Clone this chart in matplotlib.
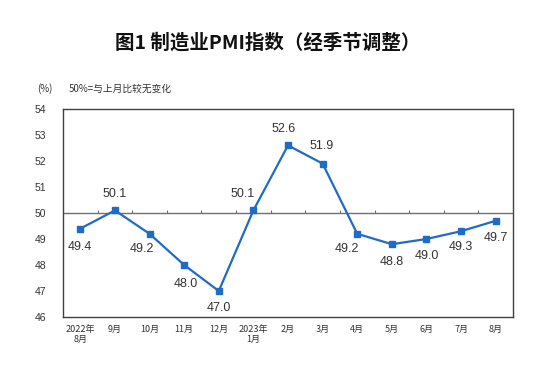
import matplotlib
matplotlib.use("Agg")
import matplotlib.pyplot as plt

plt.rcParams['font.family'] = ['Liberation Sans', 'Noto Sans CJK SC', 'DejaVu Sans']

months = ['2022年\n8月', '9月', '10月', '11月', '12月', '2023年\n1月', '2月',
          '3月', '4月', '5月', '6月', '7月', '8月']
pmi = [49.4, 50.1, 49.2, 48.0, 47.0, 50.1, 52.6, 51.9, 49.2, 48.8, 49.0, 49.3, 49.7]
# label offsets in pixels (dx, dy), per point
label_offsets = [(0, -18), (0, 16), (-8, -15), (2, -19), (0, -17), (-11, 16),
                 (-4, 16), (-1, 18), (-10, -15), (0, -18), (0, -17), (0, -16), (0, -17)]

blue = '#1f6cc6'
frame = '#404040'

fig = plt.figure(figsize=(5.41, 3.79), dpi=100)
ax = fig.add_axes([0.1165, 0.1636, 0.8317, 0.5488])

x = list(range(len(pmi)))
ax.plot(x, pmi, color=blue, lw=1.6, marker='s', markersize=4.5, zorder=3)

for xi, v, (dx, dy) in zip(x, pmi, label_offsets):
    ax.annotate(f'{v:.1f}', (xi, v), xytext=(dx * 0.72, dy * 0.72),
                textcoords='offset points', ha='center', va='center',
                fontsize=9, color='#333333')

# 50 line with upward ticks at category boundaries
ax.axhline(50, color='#707070', lw=1, zorder=2)
bounds = [i + 0.5 for i in range(len(pmi) - 1)]
ax.vlines(bounds, 50, 50.12, color='#707070', lw=0.8, zorder=2)

ax.set_xlim(-0.5, len(pmi) - 0.5)
ax.set_ylim(46, 54)
ax.set_yticks(range(46, 55))
ax.set_xticks(x)
ax.set_xticklabels(months, fontsize=6.5, color='#333333',
                   family=['Noto Sans CJK SC', 'DejaVu Sans'], linespacing=1.1)
ax.tick_params(axis='x', length=0, pad=6)
ax.tick_params(axis='y', length=0, pad=12, labelsize=7.5, labelcolor='#333333')
for s in ax.spines.values():
    s.set_color(frame)
    s.set_linewidth(1)

fig.text(0.495, 0.886, '图1 制造业PMI指数（经季节调整）', ha='center', va='center',
         fontsize=14, fontweight='bold', color='#111111',
         family=['Noto Sans CJK SC', 'DejaVu Sans'])
fig.text(45 / 541, 1 - 89 / 379, '(%)', ha='center', va='center', fontsize=7,
         color='#333333', family=['Noto Sans CJK SC', 'DejaVu Sans'])
fig.text(69 / 541, 1 - 89 / 379, '50%=与上月比较无变化', ha='left', va='center',
         fontsize=7, color='#333333', family=['Noto Sans CJK SC', 'DejaVu Sans'])

fig.savefig('out.png', dpi=100)
